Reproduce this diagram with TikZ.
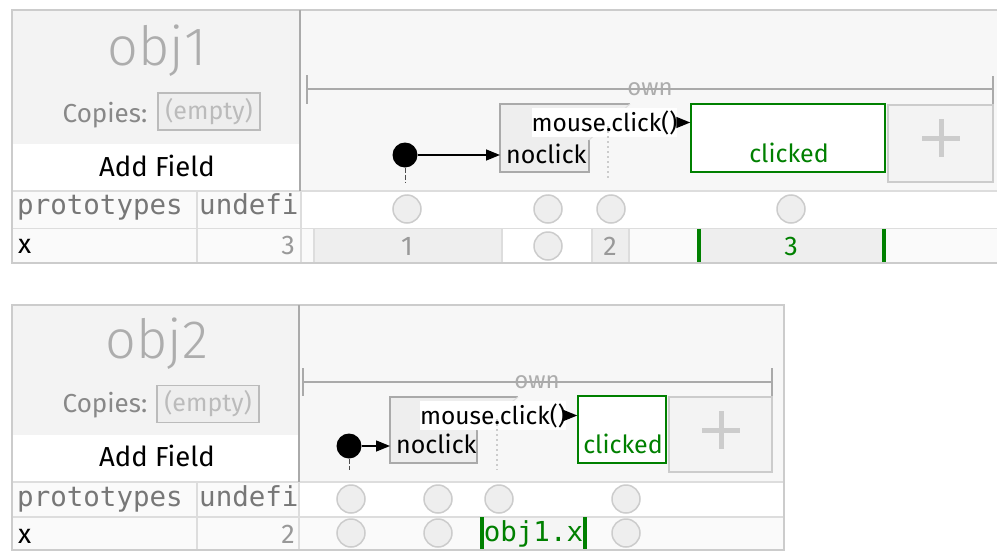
\documentclass[tikz,border=0pt]{standalone}
\usepackage{fontspec}
\setmainfont{Fira Sans}
\newfontfamily\lightf{Fira Sans Light}
\newfontfamily\monof{DejaVu Sans Mono}
\usetikzlibrary{arrows.meta}
\definecolor{hdr}{HTML}{F7F7F7}
\definecolor{leftg}{HTML}{F3F3F3}
\definecolor{bord}{HTML}{CCCCCC}
\definecolor{divc}{HTML}{AAAAAA}
\definecolor{rowl}{HTML}{DDDDDD}
\definecolor{rowg}{HTML}{FAFAFA}
\definecolor{cellg}{HTML}{EEEEEE}
\definecolor{grn}{HTML}{008000}
\definecolor{txtg}{HTML}{999999}
\definecolor{monog}{HTML}{777777}
\definecolor{copg}{HTML}{888888}
\definecolor{empg}{HTML}{BBBBBB}
\definecolor{objg}{HTML}{ADADAD}
\tikzset{
  txt/.style={inner sep=0pt, anchor=base},
  sans/.style={font=\fontsize{#1}{#1}\selectfont},
  mono/.style={font=\monof\fontsize{27.5}{27.5}\selectfont},
  circ/.style={circle, draw=bord, fill=cellg, line width=1.5pt, minimum size=28pt, inner sep=0pt},
  emptybox/.style={draw=empg, fill=cellg, line width=1.5pt, minimum width=102pt, minimum height=37pt, inner sep=0pt, text=empg, font=\fontsize{25}{25}\selectfont},
  lbl/.style={fill=white, inner sep=0pt, minimum height=29pt, font=\fontsize{24.5}{24.5}\selectfont},
  clk/.style={draw=grn, fill=white, line width=1.5pt, inner sep=0pt},
  plusbox/.style={draw=bord, fill=cellg!70!white, line width=1.5pt, inner sep=0pt},
  plusline/.style={draw=bord, line width=5pt},
  dotn/.style={circle, fill=black, minimum size=25pt, inner sep=0pt},
  arr/.style={line width=1.5pt, -{Triangle[length=14pt,width=11pt]}},
  brk/.style={draw=divc, line width=1.5pt},
  dots/.style={draw=bord, line width=1.5pt, dash pattern=on 2pt off 3pt},
  tick/.style={draw=black!70, line width=1pt, dash pattern=on 5pt off 2pt},
  rowline/.style={draw=rowl, line width=1.5pt},
}
\begin{document}
\begin{tikzpicture}[x=1pt,y=-1pt]
\useasboundingbox (0,0) rectangle (997,552);
\fill[white] (0,0) rectangle (997,552);

% ================= TOP PANEL =================
\fill[hdr] (12,10) rectangle (997,190);
\fill[leftg] (12,10) rectangle (300,144);
\fill[white] (12,144) rectangle (299,190);
\fill[rowg] (12,191) rectangle (300,228);
\fill[white] (300,191) rectangle (997,228);
\fill[rowg] (12,229) rectangle (997,262);
\fill[cellg] (315,229) rectangle (501,262);
\fill[white] (503,229) rectangle (591,262);
\fill[cellg] (593,229) rectangle (628,262);
\fill[cellg] (700,229) rectangle (884,262);
\draw[rowline] (12,191) -- (997,191);
\draw[rowline] (12,228.5) -- (997,228.5);
\draw[rowline] (197,191) -- (197,263);
\draw[rowline] (301,191) -- (301,263);
\draw[rowline] (314,229) -- (314,263);
\draw[rowline] (502,229) -- (502,262);
\draw[rowline] (592,229) -- (592,262);
\draw[rowline] (629,229) -- (629,262);
\fill[grn] (697,229) rectangle (701,262);
\fill[grn] (882,229) rectangle (886,262);
\draw[bord, line width=2pt] (997,10) -- (12,10) -- (12,263) -- (997,263);
\draw[divc, line width=2pt] (300,10) -- (300,191);

% left column
\node[txt, text=objg, font=\lightf\fontsize{54}{54}\selectfont] (o1) at (157,65) {obj1};
\node[txt, text=copg, sans=26] (cp1) at (105,122) {Copies:};
\node[emptybox] (e1) at (209,111.5) {(empty)};
\node[txt, sans=27.5] (af1) at (157,176) {Add Field};
\node[txt, mono, text=monog, anchor=base west] (pr1) at (17,214) {prototypes};
\begin{scope}
\clip (198,191) rectangle (299,228);
\node[txt, mono, text=monog, anchor=base west] (u1) at (199,214) {undefi};
\end{scope}
\node[txt, sans=27, anchor=base west] (x1) at (18,253) {x};
\node[txt, sans=27, text=txtg, anchor=base east] (v1) at (295,254) {3};

% own bracket
\node[txt, text=objg, sans=24] (own1) at (650,95) {own};
\draw[brk] (307,89) -- (993,89);
\draw[brk] (307,75) -- (307,104);
\draw[brk] (993,76) -- (993,106);

% noclick state
\fill[cellg] (500,104) -- (630,104) -- (589,140) -- (589,172) -- (500,172) -- cycle;
\draw[divc, line width=1.5pt] (630,104) -- (500,104) -- (500,172) -- (589,172) -- (589,140);
\draw[rowl, line width=1pt] (630,104) -- (589,140);
\coordinate (nc1w) at (500,155);
\node[lbl, minimum width=145pt] (l1) at (604.5,122.5) {mouse.click()};
\draw[dots] (608,126) -- (608,180);
\node[txt, sans=25, anchor=base west] (n1) at (506,163) {noclick};

% clicked state
\node[clk, minimum width=194pt, minimum height=68pt] (c1) at (788,138) {};
\node[txt, text=grn, sans=25] (ct1) at (789,162) {clicked};
\draw[arr] (l1.east) -- (l1.east -| c1.west);

% plus box
\node[plusbox, minimum width=105pt, minimum height=77pt] (p1) at (940.5,143.5) {};
\draw[plusline] (922,138) -- (960,138);
\draw[plusline] (941,119) -- (941,157);

% initial dot
\node[dotn] (d1) at (405,155) {};
\draw[arr] (d1) -- (nc1w);
\draw[tick] (d1.south) -- (405,182);

% circles
\node[circ] (a1) at (407,209) {};
\node[circ] (a2) at (548,209) {};
\node[circ] (a3) at (611,209) {};
\node[circ] (a4) at (791,209) {};
\node[circ] (a5) at (548,246) {};
\node[txt, sans=27, text=txtg] (w1) at (407,255) {1};
\node[txt, sans=27, text=txtg] (w2) at (610,255) {2};
\node[txt, sans=27, text=grn] (w3) at (791,255) {3};

% ================= BOTTOM PANEL =================
\fill[hdr] (12,305) rectangle (784,481);
\fill[leftg] (12,305) rectangle (299,435);
\fill[white] (12,435) rectangle (298,481);
\fill[rowg] (12,482) rectangle (299,516);
\fill[white] (299,482) rectangle (784,516);
\fill[rowg] (12,518) rectangle (784,550);
\fill[cellg!60!white] (484,518) rectangle (583,550);
\draw[rowline] (12,482) -- (784,482);
\draw[rowline] (12,517) -- (784,517);
\draw[rowline] (197,482) -- (197,550);
\draw[rowline] (299,482) -- (299,550);
\fill[grn] (480,517) rectangle (484,550);
\fill[grn] (583,517) rectangle (587,550);
\draw[bord, line width=2pt] (12,305) rectangle (784,550);
\draw[divc, line width=2pt] (299,305) -- (299,482);

\node[txt, text=objg, font=\lightf\fontsize{54}{54}\selectfont] (o2) at (157,358) {obj2};
\node[txt, text=copg, sans=26] (cp2) at (105,412) {Copies:};
\node[emptybox] (e2) at (208,404) {(empty)};
\node[txt, sans=27.5] (af2) at (157,466) {Add Field};
\node[txt, mono, text=monog, anchor=base west] (pr2) at (17,506) {prototypes};
\begin{scope}
\clip (198,483) rectangle (298,516);
\node[txt, mono, text=monog, anchor=base west] (u2) at (199,506) {undefi};
\end{scope}
\node[txt, sans=27, anchor=base west] (x2) at (18,543) {x};
\node[txt, sans=27, text=txtg, anchor=base east] (v2) at (295,543) {2};

\node[txt, text=objg, sans=24] (own2) at (537,388) {own};
\draw[brk] (303,382) -- (772,382);
\draw[brk] (303,368) -- (303,396);
\draw[brk] (772,368) -- (772,397);

\fill[cellg] (390,397) -- (518,397) -- (477,430) -- (477,463) -- (390,463) -- cycle;
\draw[divc, line width=1.5pt] (518,397) -- (390,397) -- (390,463) -- (477,463) -- (477,430);
\draw[rowl, line width=1pt] (518,397) -- (477,430);
\coordinate (nc2w) at (390,446);
\node[lbl, minimum width=142pt] (l2) at (493,415.5) {mouse.click()};
\draw[dots] (497,419) -- (497,470);
\node[txt, sans=25, anchor=base west] (n2) at (396,453) {noclick};

\node[clk, minimum width=88pt, minimum height=67pt] (c2) at (622,429.5) {};
\node[txt, text=grn, sans=25] (ct2) at (623,453) {clicked};
\draw[arr] (l2.east) -- (l2.east -| c2.west);

\node[plusbox, minimum width=103pt, minimum height=75pt] (p2) at (720.5,434.5) {};
\draw[plusline] (702,430) -- (740,430);
\draw[plusline] (721,411) -- (721,449);

\node[dotn] (d2) at (349,446) {};
\draw[arr] (d2) -- (nc2w);
\draw[tick] (d2.south) -- (349,470);

\node[circ] (b1) at (351,499) {};
\node[circ] (b2) at (438,499) {};
\node[circ] (b3) at (499,499) {};
\node[circ] (b4) at (626,499) {};
\node[circ] (b5) at (351,533) {};
\node[circ] (b6) at (438,533) {};
\node[circ] (b7) at (626,533) {};
\node[txt, mono, text=grn] (ox) at (533.5,541) {obj1.x};
\end{tikzpicture}
\end{document}
